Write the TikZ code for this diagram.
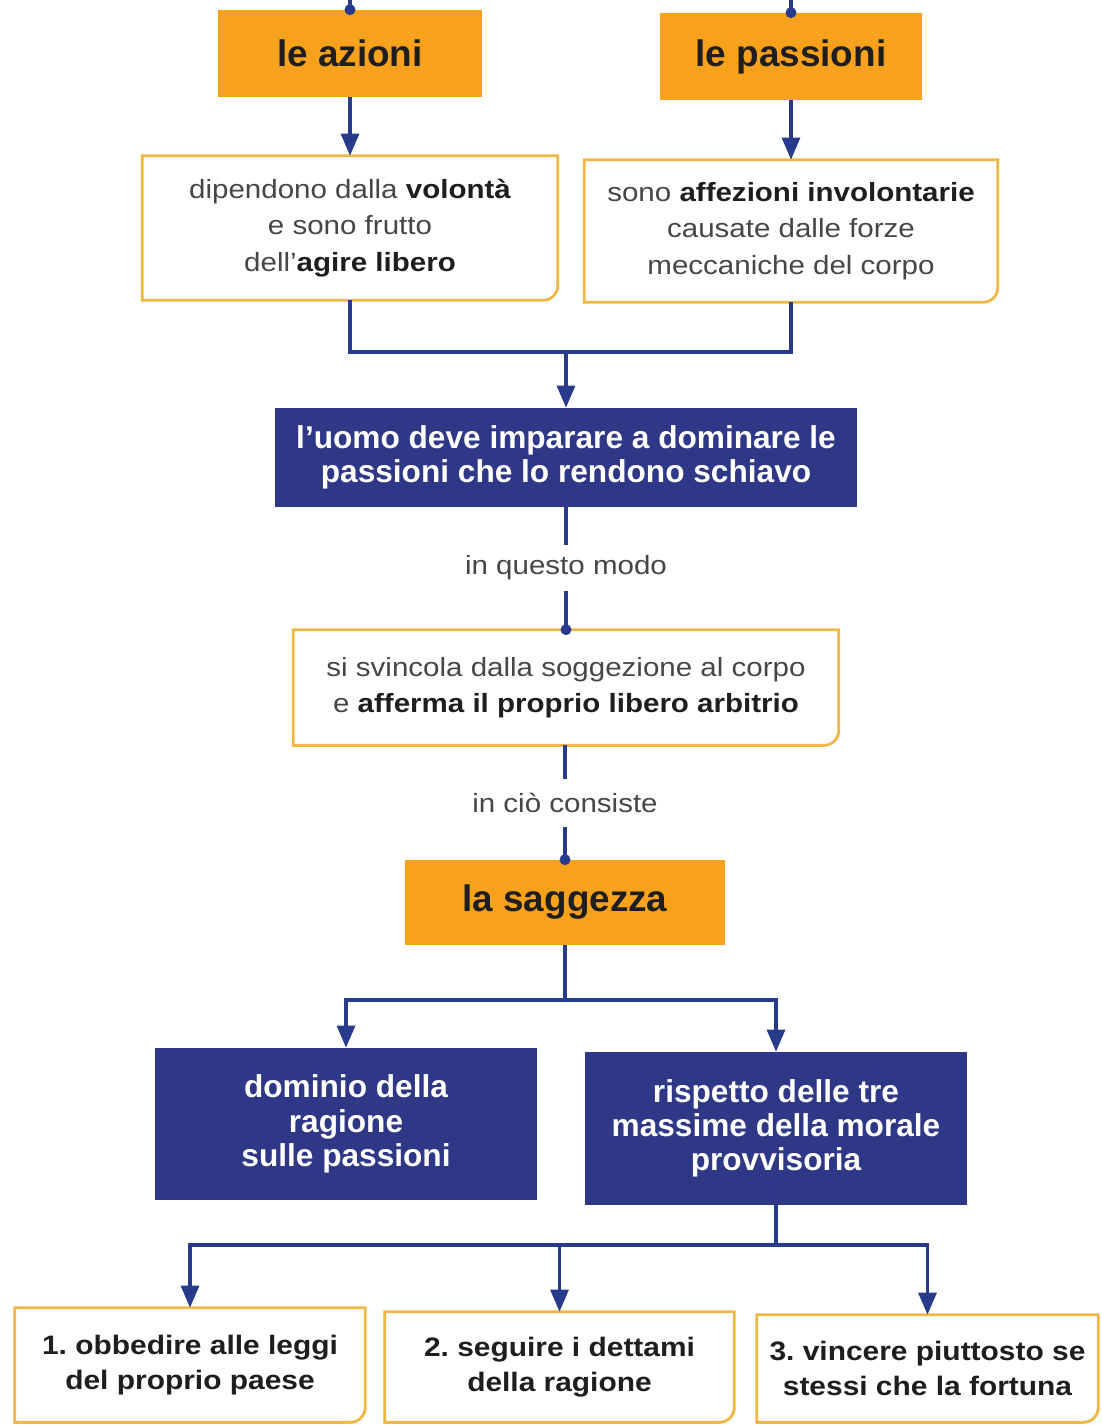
\documentclass[tikz,border=0pt]{standalone}
\usepackage{fontspec}
\setmainfont{Liberation Sans}
\newfontfamily\largo{Liberation Sans}[FakeStretch=1.12]
\usetikzlibrary{arrows.meta}

\definecolor{arancio}{RGB}{247,161,28}
\definecolor{blunotte}{RGB}{46,56,135}
\definecolor{linea}{RGB}{40,58,140}
\definecolor{bordino}{RGB}{240,182,70}
\definecolor{grigio}{RGB}{70,70,70}
\definecolor{nero}{RGB}{30,30,30}

\tikzset{
    titolo/.style={fill=arancio, text=nero, font=\fontsize{21}{25}\selectfont\bfseries,
        align=center, inner sep=0pt},
    pensiero/.style={fill=white, text=grigio, font=\largo\fontsize{15}{20.8}\selectfont,
        align=center, inner sep=0pt},
    massima/.style={fill=white, text=nero, font=\largo\fontsize{15.2}{19.8}\selectfont\bfseries,
        align=center, inner sep=0pt},
    scuro/.style={fill=blunotte, text=white, font=\fontsize{18}{19.5}\selectfont\bfseries,
        align=center, inner sep=0pt},
    dicitura/.style={text=grigio, font=\largo\fontsize{15}{18}\selectfont, inner sep=0pt},
    filo/.style={draw=linea, line width=1.8pt},
    freccia/.style={filo, -{Triangle[width=0.36cm,length=0.44cm]}},
    punto/.style={fill=linea, circle, inner sep=0pt, minimum size=0.22cm}
}

% bordo arancio con angolo in basso a destra arrotondato
\newcommand{\cornice}[1]{%
    \draw[bordino, line width=1.6pt]
        (#1.north west) -- (#1.north east)
        -- ([yshift=0.3cm]#1.south east)
        arc[start angle=0, end angle=-90, radius=0.3cm]
        -- (#1.south west) -- cycle;}

\newcommand{\bb}[1]{{\bfseries\color{nero}#1}}

\begin{document}
\frenchspacing
\begin{tikzpicture}[x=0.02cm, y=-0.02cm]
    \useasboundingbox (0,0) rectangle (1101,1425);

    % riga superiore
    \node[titolo, minimum width=5.28cm, minimum height=1.74cm] (azioni) at (350,53.5) {le azioni};
    \node[titolo, minimum width=5.26cm, minimum height=1.74cm] (passioni) at (791,56.5) {le passioni};
    \coordinate (inizioA) at (350,0);
    \coordinate (inizioP) at (791,0);
    \draw[filo] (inizioA) -- (azioni.north);
    \draw[filo] (inizioP) -- (passioni.north);
    \node[punto] at (azioni.north) {};
    \node[punto] at (passioni.north) {};

    \node[pensiero, minimum width=8.30cm, minimum height=2.88cm] (volonta) at (350,228)
        {dipendono dalla \bb{volontà}\\e sono frutto\\dell’\bb{agire libero}};
    \node[pensiero, minimum width=8.26cm, minimum height=2.84cm] (affezioni) at (791,231)
        {sono \bb{affezioni involontarie}\\causate dalle forze\\meccaniche del corpo};
    \cornice{volonta}
    \cornice{affezioni}
    \draw[freccia] (azioni) -- (volonta);
    \draw[freccia] (passioni) -- (affezioni);

    % centro
    \node[scuro, minimum width=11.66cm, minimum height=1.98cm] (uomo) at (566,457.5)
        {l’uomo deve imparare a dominare le\\passioni che lo rendono schiavo};
    \coordinate (giunto) at (566,352);
    \draw[filo] (volonta.south) |- (giunto) -| (affezioni.south);
    \draw[freccia] (giunto) -- (uomo);

    \node[dicitura, minimum height=0.9cm] (modo) at (566,568) {in questo modo};
    \node[pensiero, minimum width=10.90cm, minimum height=2.30cm] (svincola) at (566,687.5)
        {si svincola dalla soggezione al corpo\\e \bb{afferma il proprio libero arbitrio}};
    \cornice{svincola}
    \draw[filo] (uomo) -- (modo);
    \draw[filo] (modo) -- (svincola.north);
    \node[punto] at (svincola.north) {};

    \node[dicitura, minimum height=0.96cm] (consiste) at (565,803) {in ciò consiste};
    \node[titolo, minimum width=6.40cm, minimum height=1.70cm] (saggezza) at (565,902.5) {la saggezza};
    \draw[filo] (svincola.south -| consiste) -- (consiste);
    \draw[filo] (consiste) -- (saggezza.north);
    \node[punto] at (saggezza.north) {};

    % due rami
    \node[scuro, minimum width=7.64cm, minimum height=3.04cm] (dominio) at (346,1124)
        {dominio della\\ragione\\sulle passioni};
    \node[scuro, minimum width=7.64cm, minimum height=3.06cm] (rispetto) at (776,1128.5)
        {rispetto delle tre\\massime della morale\\provvisoria};
    \coordinate (bivio) at (565,1000);
    \draw[filo] (saggezza) -- (bivio);
    \draw[freccia] (bivio) -| (dominio);
    \draw[freccia] (bivio) -| (rispetto);

    % tre massime
    \node[massima, minimum width=7.00cm, minimum height=2.28cm] (obbedire) at (190,1365)
        {1. obbedire alle leggi\\del proprio paese};
    \node[massima, minimum width=6.98cm, minimum height=2.20cm] (dettami) at (559.5,1367)
        {2. seguire i dettami\\della ragione};
    \node[massima, minimum width=6.82cm, minimum height=2.14cm] (fortuna) at (927.5,1368.5)
        {3. vincere piuttosto se\\stessi che la fortuna};
    \cornice{obbedire}
    \cornice{dettami}
    \cornice{fortuna}
    \coordinate (trivio) at (776,1245);
    \draw[filo] (rispetto) -- (trivio);
    \draw[freccia] (trivio) -| (obbedire);
    \draw[freccia] (trivio) -| (dettami);
    \draw[freccia] (trivio) -| (fortuna);
\end{tikzpicture}
\end{document}
